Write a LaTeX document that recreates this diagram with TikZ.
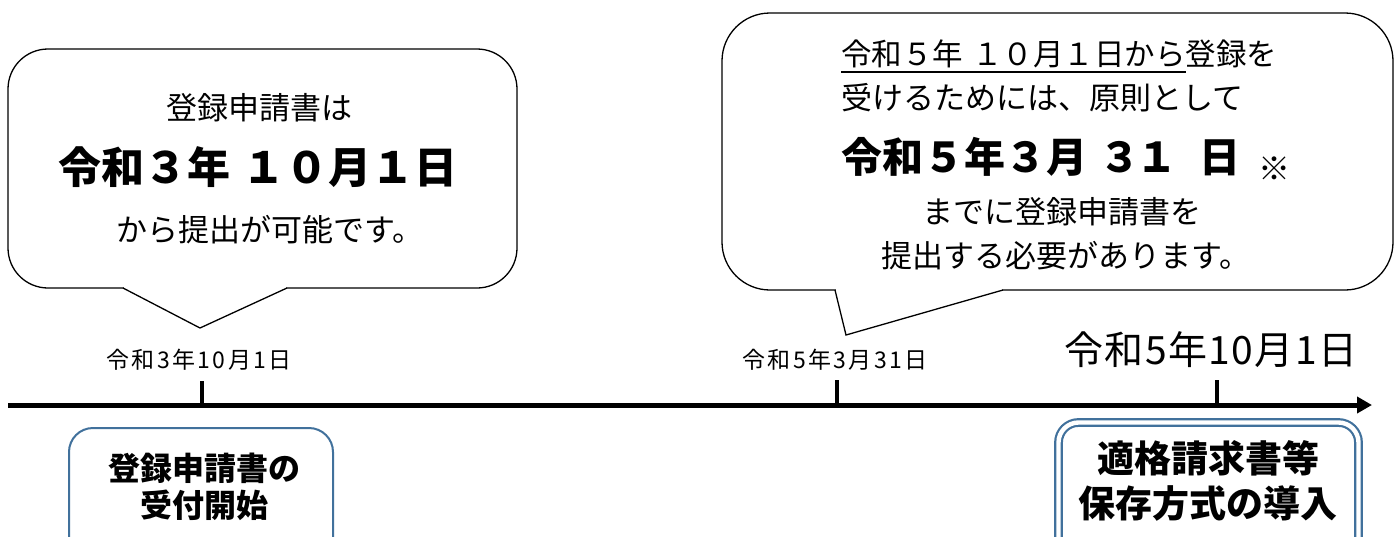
\documentclass[tikz,border=0pt]{standalone}
\usepackage{fontspec}
\setmainfont{Noto Sans CJK JP}
\usetikzlibrary{arrows.meta}
\definecolor{steel}{RGB}{65,113,156}
\newcommand{\fs}[1]{\fontsize{#1}{#1}\selectfont}
\newcommand{\ka}{\kern2.4pt}
\newcommand{\kb}{\kern1.4pt}
\begin{document}
\begin{tikzpicture}[x=1pt,y=-1pt,
  txt/.style={inner sep=0pt, outer sep=0pt, text=black},
  bubble/.style={draw=black, line width=1.3pt, fill=white, rounded corners=40pt},
  tail/.style={draw=black, line width=1.3pt, line join=miter},
  tick/.style={line width=3.6pt},
  axis/.style={line width=5pt, -{Triangle[length=15pt,width=16pt]}},
  boxA/.style={draw=steel, line width=2pt, fill=white, rounded corners=24pt},
  boxB/.style={draw=steel, line width=2.2pt, double=white, double distance=4.4pt, rounded corners=20pt}]
\useasboundingbox (0,0) rectangle (1395,536);
\clip (0,0) rectangle (1395,536);

% ---------- left bubble ----------
\draw[bubble] (8,49) rectangle (517,288);
\coordinate (t1a) at (123,288);
\coordinate (t1b) at (200,328);
\coordinate (t1c) at (287,288);
\fill[white] (124,285) -- (286,285) -- (286,288.2) -- (t1b) -- (124,288.2) -- cycle;
\draw[tail] (t1a) -- (t1b) -- (t1c);

\node[txt] (b1l1) at (259,108) {\fs{31}登録申請書は};
\node[txt] (b1l2) at (258,167) {\fs{43}\bfseries 令和３年\hspace{0.3em}１０月１日};
\node[txt] (b1l3) at (270,230) {\fs{31}から提出が可能です。};

% ---------- right bubble ----------
\draw[bubble, rounded corners=48pt] (722,13) rectangle (1393,290);
\coordinate (t2a) at (835,290);
\coordinate (t2b) at (846,335);
\coordinate (t2c) at (1003,290);
\fill[white] (836,287) -- (1002,287) -- (1002,290.2) -- (t2b) -- (836,290.2) -- cycle;
\draw[tail] (t2a) -- (t2b) -- (t2c);

\node[txt, anchor=west] (b2l1a) at (841,54) {\fs{30.5}令和５年\hspace{0.3em}１０月１日から};
\node[txt, anchor=west] (b2l1b) at (b2l1a.east) {\fs{30.5}登録を};
\draw[line width=1.3pt] ([yshift=-4pt]b2l1a.south west) -- ([yshift=-4pt]b2l1a.south east);
\node[txt, anchor=west] (b2l2) at (841,98) {\fs{31}受けるためには、原則として};
\node[txt, anchor=west] (b2l3) at (841,157) {\fs{41}\bfseries 令和５年３月\hspace{0.3em}３\kern-4pt１\hspace{0.55em}日};
\node[txt] (b2note) at (1274,169) {\fs{32}※};
\node[txt] (b2l4) at (1062,212) {\fs{31}までに登録申請書を};
\node[txt] (b2l5) at (1066,256) {\fs{31}提出する必要があります。};

% ---------- timeline ----------
\coordinate (ax0) at (8,405);
\coordinate (ax1) at (1372,405);
\coordinate (k1) at (202,405);
\coordinate (k2) at (837,405);
\coordinate (k3) at (1217,405);
\draw[axis] (ax0) -- (ax1);
\draw[tick] (k1) -- ++(0,-24);
\draw[tick] (k2) -- ++(0,-25);
\draw[tick] (k3) -- ++(0,-25);

\node[txt] (lab1) at (199,360) {\fs{23}令\ka 和\ka 3\ka 年\ka 1\ka 0\ka 月\ka 1\ka 日};
\node[txt] (lab2) at (835,360) {\fs{23}令\ka 和\ka 5\ka 年\ka 3\ka 月\ka 3\ka 1\ka 日};
\node[txt] (lab3) at (1211,350) {\fs{39}令\kb 和\kb 5\kb 年\kb 1\kb 0\kb 月\kb 1\kb 日};

% ---------- bottom boxes ----------
\draw[boxA] (69,428) rectangle (333,570);
\node[txt] (ba1) at (204,468) {\fs{32}\bfseries 登録申請書の};
\node[txt] (ba2) at (204,505) {\fs{32}\bfseries 受付開始};

\draw[boxB] (1058.5,422.5) rectangle (1358.5,570);
\node[txt] (bb1) at (1208,458) {\fs{37}\bfseries 適格請求書等};
\node[txt] (bb2) at (1208,503) {\fs{37}\bfseries 保存方式の導入};
\end{tikzpicture}
\end{document}
